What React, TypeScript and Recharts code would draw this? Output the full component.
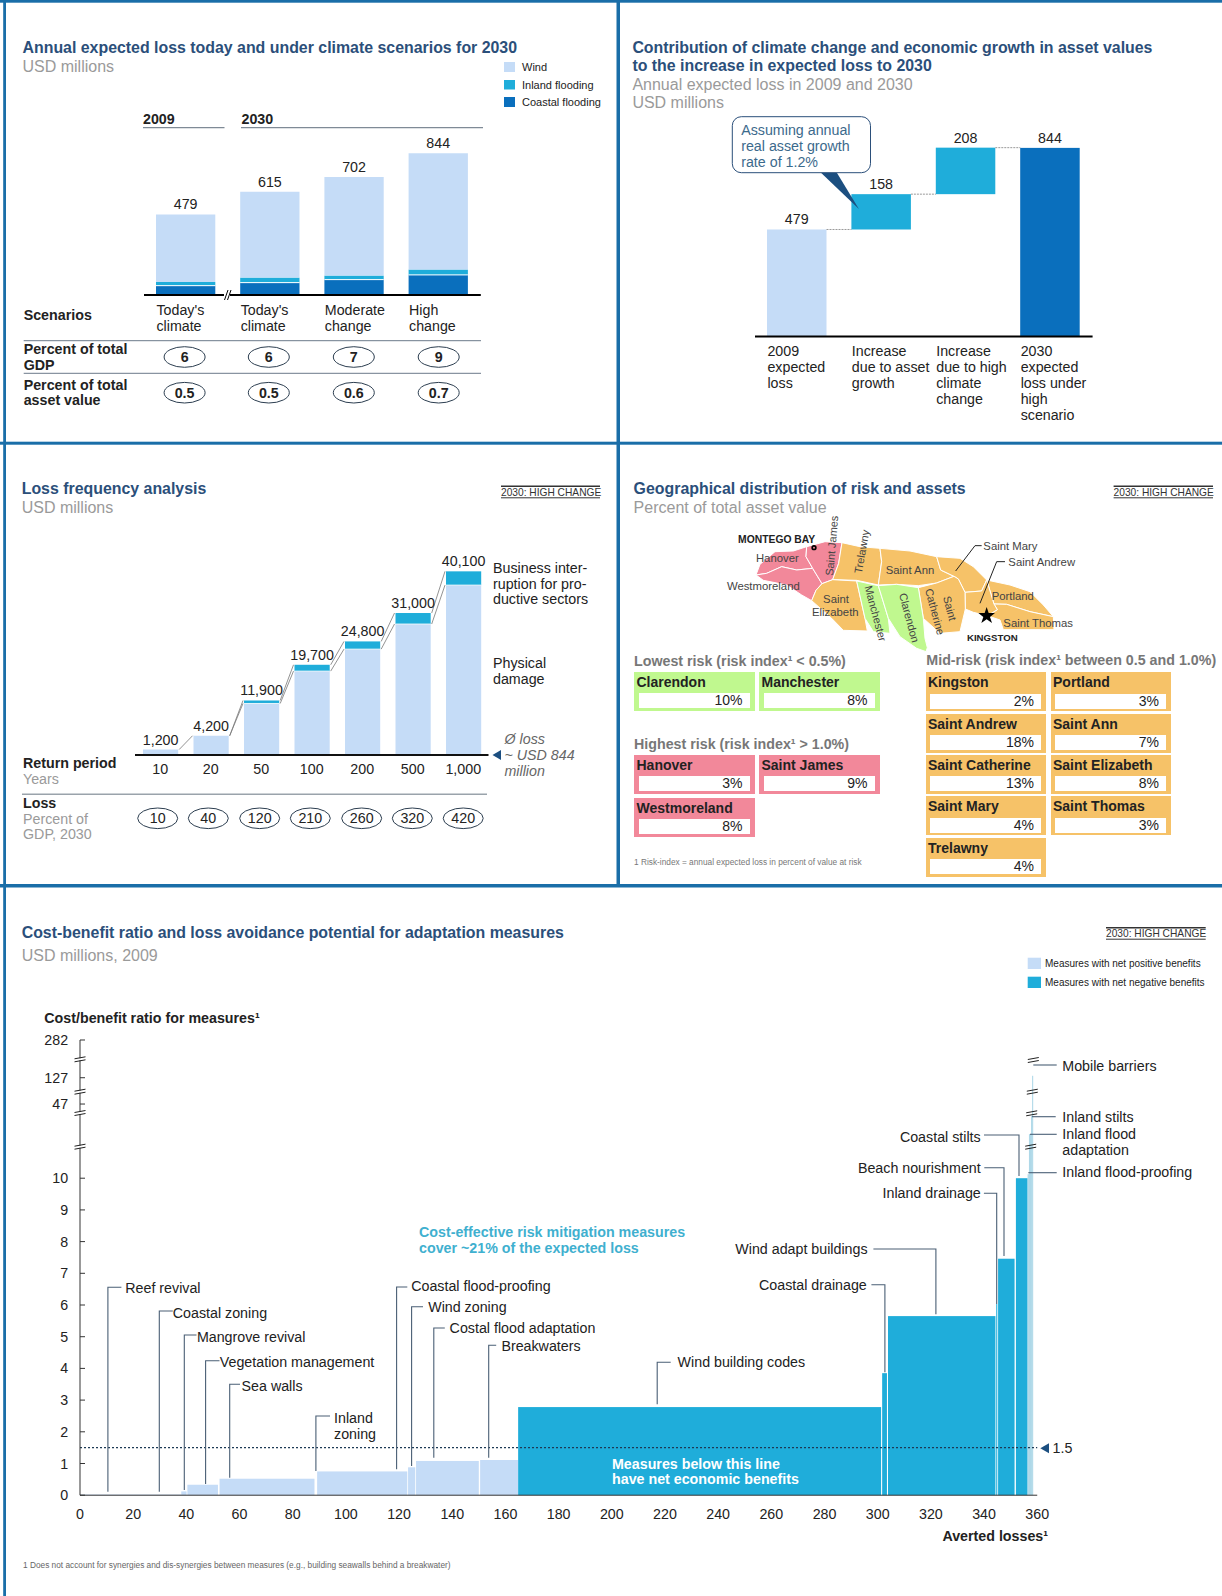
import React from 'react';
import { BarChart, ComposedChart, Bar, XAxis, YAxis, LabelList, ReferenceLine } from 'recharts';

// ---------- Panel 1 data
const SCENARIOS = ["Today's\nclimate", "Today's\nclimate", 'Moderate\nchange', 'High\nchange'];
const LOSS_TOTAL = [479, 615, 702, 844];
const LOSS_COASTAL = [55, 73, 91, 119];
const LOSS_INLAND = [22, 30, 24, 32];
const LOSS_WIND = [402, 512, 587, 693];
const PCT_GDP = ['6', '6', '7', '9'];
const PCT_ASSET = ['0.5', '0.5', '0.6', '0.7'];

// ---------- Panel 2 data
const BRIDGE_LABELS = ['2009\nexpected\nloss', 'Increase\ndue to asset\ngrowth', 'Increase\ndue to high\nclimate\nchange', '2030\nexpected\nloss under\nhigh\nscenario'];
const BRIDGE_BASE = [0, 479, 637, 0];
const BRIDGE_VALUE = [479, 158, 208, 844];

// ---------- Panel 3 data
const RETURN_PERIODS = ['10', '20', '50', '100', '200', '500', '1,000'];
const FREQ_TOTAL = [1200, 4200, 11900, 19700, 24800, 31000, 40100];
const FREQ_BUSINESS = [0, 0, 650, 1380, 1680, 2400, 3000];
const FREQ_GDP = ['10', '40', '120', '210', '260', '320', '420'];

// ---------- Panel 4 data
const LOWEST = ['Clarendon', 'Manchester'];
const LOWEST_PCT = ['10%', '8%'];
const HIGHEST = ['Hanover', 'Saint James', 'Westmoreland'];
const HIGHEST_PCT = ['3%', '9%', '8%'];
const MID = ['Kingston', 'Portland', 'Saint Andrew', 'Saint Ann', 'Saint Catherine', 'Saint Elizabeth', 'Saint Mary', 'Saint Thomas', 'Trelawny'];
const MID_PCT = ['2%', '3%', '18%', '7%', '13%', '8%', '4%', '3%', '4%'];

// ---------- Panel 5 data: averted-loss spans and cost/benefit ratios
const POS_START = [0, 20, 38.1, 40.4, 52.5, 89.2, 123.4, 126.4, 150.5];
const POS_END = [20, 38, 40.1, 51.9, 88.2, 123.1, 126.1, 150, 164.8];
const POS_RATIO = [0.02, 0.02, 0.12, 0.33, 0.52, 0.75, 0.88, 1.08, 1.11];
const NEG_START = [164.8, 301.7, 303.9, 344.6, 345.3, 352];
const NEG_END = [301.3, 303.5, 344.3, 345, 351.5, 356.4];
const NEG_RATIO = [2.78, 3.85, 5.65, 6.03, 7.46, 10];
const THIN_START = [356.4, 356.9, 357.7, 358.1];
const THIN_END = [356.9, 357.7, 358.1, 358.5];
const THIN_RATIO = [12, 32, 41, 135];
const X_TICKS = [0, 20, 40, 60, 80, 100, 120, 140, 160, 180, 200, 220, 240, 260, 280, 300, 320, 340, 360];
const Y_LABELS = [0, 1, 2, 3, 4, 5, 6, 7, 8, 9, 10, 47, 127, 282];
const BREAK_FROM = [10, 47, 127, 282];
const BREAK_TO = [10, 12.34, 13.17, 14.36];

// broken axis: ratios above 10 are compressed piecewise
const axisPos = (v: number) => {
  if (v <= 10) return v;
  for (let i = 1; i < BREAK_FROM.length; i++) {
    if (v <= BREAK_FROM[i]) {
      return BREAK_TO[i - 1] + ((v - BREAK_FROM[i - 1]) / (BREAK_FROM[i] - BREAK_FROM[i - 1])) * (BREAK_TO[i] - BREAK_TO[i - 1]);
    }
  }
  return BREAK_TO[BREAK_TO.length - 1];
};

// ---------- colours
const LIGHT = '#c5dcf7';
const TEAL = '#1fadda';
const DEEP = '#0a6fbd';
const THINC = '#aed8e8';
const NAVY = '#2b4f7a';
const GREY = '#9a9a9a';
const INK = '#222';
const BORDER = '#1a6ea8';
const FONT = '"Liberation Sans", Arial, sans-serif';
const BODY = 14.25;

const lossData = SCENARIOS.map((name, i) => ({ name, total: LOSS_TOTAL[i], coastal: LOSS_COASTAL[i], inland: LOSS_INLAND[i], wind: LOSS_WIND[i] }));
const bridgeData = BRIDGE_LABELS.map((name, i) => ({ name, base: BRIDGE_BASE[i], value: BRIDGE_VALUE[i] }));
const freqData = RETURN_PERIODS.map((name, i) => ({ name, total: FREQ_TOTAL[i], business: FREQ_BUSINESS[i], physical: FREQ_TOTAL[i] - FREQ_BUSINESS[i] }));

const row = (start: number, end: number, ratio: number, key: string) => ({ mid: (start + end) / 2, span: end - start, pos: key === 'pos' ? axisPos(ratio) : 0, neg: key === 'neg' ? axisPos(ratio) : 0, thin: key === 'thin' ? axisPos(ratio) : 0 });
const measureData = [
  ...POS_START.map((s, i) => row(s, POS_END[i], POS_RATIO[i], 'pos')),
  ...NEG_START.map((s, i) => row(s, NEG_END[i], NEG_RATIO[i], 'neg')),
  ...THIN_START.map((s, i) => row(s, THIN_END[i], THIN_RATIO[i], 'thin')),
];

// ---------- helpers
const Frame = ({ x, y, w, h, mt = 0, ml = 0, mr = 0, mb = 0, children }: any) => (
  <div style={{ position: 'absolute', left: x - ml, top: y - mt, width: w + ml + mr, height: h + mt + mb }}>{children}</div>
);

const T = ({ x, y, s = BODY, b, i, c = INK, a = 'start', children }: any) => (
  <text x={x} y={y} fontSize={s} fontWeight={b ? 700 : 400} fontStyle={i ? 'italic' : 'normal'} fill={c} textAnchor={a} dominantBaseline="central">{children}</text>
);

const Tag = ({ x1, x2, y }: any) => (
  <g>
    <line x1={x1} x2={x2} y1={y - 6} y2={y - 6} stroke="#333" strokeWidth={1.4} />
    <T x={x1} y={y} s={10.2} c="#333">2030: HIGH CHANGE</T>
    <line x1={x1} x2={x2} y1={y + 5.5} y2={y + 5.5} stroke="#333" strokeWidth={1} />
  </g>
);

const Oval = ({ x, y, rx = 20.5, ry = 10.3, b, children }: any) => (
  <g>
    <ellipse cx={x} cy={y} rx={rx} ry={ry} fill="#fff" stroke="#2c3e50" strokeWidth={1} />
    <T x={x} y={y} a="middle" b={b}>{children}</T>
  </g>
);

const Slash = ({ x, y, w = 5.5 }: any) => (
  <g stroke="#222" strokeWidth={1}>
    <line x1={x - w} x2={x + w} y1={y - 0.5} y2={y - 2.5} />
    <line x1={x - w} x2={x + w} y1={y + 2.5} y2={y + 0.5} />
  </g>
);

const multiTick = (barW: number, gap: number, first: number) => (p: any) => {
  const lines = String(p.payload.value).split('\n');
  return (
    <text x={p.x - barW / 2} y={p.y} fontSize={BODY} fill={INK} dominantBaseline="central">
      {lines.map((l, i) => (
        <tspan key={i} x={p.x - barW / 2} y={p.y + first + i * gap}>{l}</tspan>
      ))}
    </text>
  );
};

// ---------- Chart 1
const LossChart = () => (
  <Frame x={143.7} y={126.8} w={336.8} h={167.9} mb={50} ml={1} mr={1}>
    <BarChart width={338.8} height={217.9} data={lossData} margin={{ top: 0, left: 1, right: 1, bottom: 0 }} barSize={59.3}>
      <XAxis dataKey="name" height={50} interval={0} tickLine={false} tickSize={0} tickMargin={0} axisLine={{ stroke: '#000', strokeWidth: 2 }} tick={multiTick(59.3, 16, 15.3)} />
      <YAxis hide domain={[0, 1000]} />
      <Bar dataKey="coastal" stackId="a" fill={DEEP} isAnimationActive={false} />
      <Bar dataKey="inland" stackId="a" isAnimationActive={false} shape={(p: any) => (
        <g>
          <rect x={p.x} y={p.y} width={p.width} height={p.height} fill={TEAL} />
          <line x1={p.x} x2={p.x + p.width} y1={p.y + p.height} y2={p.y + p.height} stroke="#fff" strokeWidth={1} />
        </g>
      )} />
      <Bar dataKey="wind" stackId="a" fill={LIGHT} isAnimationActive={false}>
        <LabelList dataKey="total" position="top" fontSize={BODY} fill={INK} />
      </Bar>
    </BarChart>
  </Frame>
);

// ---------- Chart 2
const BRIDGE_COLORS = [LIGHT, TEAL, TEAL, DEEP];
const BridgeChart = () => (
  <Frame x={755} y={113.1} w={337.6} h={223.6} mb={90} ml={2} mr={20}>
    <BarChart width={359.6} height={313.6} data={bridgeData} margin={{ top: 0, left: 2, right: 20, bottom: 0 }} barSize={59.5}>
      <XAxis dataKey="name" height={90} interval={0} tickLine={false} tickSize={0} tickMargin={0} axisLine={{ stroke: '#000', strokeWidth: 2 }} tick={multiTick(59.5, 16, 14.5)} />
      <YAxis hide domain={[0, 1000]} />
      <Bar dataKey="base" stackId="a" fill="none" isAnimationActive={false} />
      <Bar dataKey="value" stackId="a" isAnimationActive={false} shape={(p: any) => (
        <g>
          <rect x={p.x} y={p.y} width={p.width} height={p.height} fill={BRIDGE_COLORS[p.index]} />
          {p.index < 3 && <line x1={p.x + p.width} x2={p.x + p.width + 25} y1={p.y} y2={p.y} stroke="#999" strokeWidth={1} strokeDasharray="2 1" />}
        </g>
      )}>
        <LabelList dataKey="value" position="top" fontSize={BODY} fill={INK} />
      </Bar>
    </BarChart>
  </Frame>
);

// ---------- Chart 3
const FREQ_PLOT_H = 229;
const FREQ_MAX = 50000;
const FreqChart = () => (
  <Frame x={135.25} y={525.7} w={353.5} h={FREQ_PLOT_H} mb={30} ml={1} mr={1}>
    <BarChart width={355.5} height={FREQ_PLOT_H + 30} data={freqData} margin={{ top: 0, left: 1, right: 1, bottom: 0 }} barSize={35.2}>
      <XAxis dataKey="name" height={30} interval={0} tickLine={false} tickSize={0} tickMargin={9} axisLine={{ stroke: '#111', strokeWidth: 2 }} tick={{ fontSize: BODY, fill: INK }} />
      <YAxis hide domain={[0, FREQ_MAX]} />
      <Bar dataKey="physical" stackId="a" fill={LIGHT} isAnimationActive={false} />
      <Bar dataKey="business" stackId="a" isAnimationActive={false} shape={(p: any) => {
        const k = FREQ_PLOT_H / FREQ_MAX;
        const next = p.index + 1;
        const i = p.index;
        const gap = 15.3;
        const hasNext = next < FREQ_TOTAL.length;
        const nextTop = hasNext ? p.y - (FREQ_TOTAL[next] - FREQ_TOTAL[i]) * k : 0;
        const nextLow = hasNext ? nextTop + FREQ_BUSINESS[next] * k : 0;
        const low = p.y + p.height;
        return (
          <g>
            <rect x={p.x} y={p.y} width={p.width} height={Math.max(0, p.height)} fill={TEAL} />
            <line x1={p.x} x2={p.x + p.width} y1={low} y2={low} stroke="#fff" strokeWidth={p.height > 0 ? 0.8 : 0} />
            {hasNext && <line x1={p.x + p.width + 1} x2={p.x + p.width + gap - 1} y1={p.y} y2={nextTop} stroke="#777" strokeWidth={0.8} />}
            {hasNext && FREQ_BUSINESS[next] > 0 && <line x1={p.x + p.width + 1} x2={p.x + p.width + gap - 1} y1={low} y2={nextLow} stroke="#777" strokeWidth={0.8} />}
          </g>
        );
      }}>
        <LabelList dataKey="total" position="top" fontSize={BODY} fill={INK} formatter={(v: any) => Number(v).toLocaleString('en-US')} />
      </Bar>
    </BarChart>
  </Frame>
);

// ---------- Chart 5
const M_K = 2.659;
const M_W = 360 * M_K;
const M_U = 31.7;
const M_TOP = BREAK_TO[3];
const M_H = M_TOP * M_U;
const M_PAD = 12;
const yTickVals = Y_LABELS.map(axisPos);
const blockShape = (fill: string) => (p: any) => {
  if (!(p.height > 0)) return <g />;
  const cx = p.x + p.width / 2;
  const w = p.payload.span * M_K;
  return <rect x={cx - w / 2} y={p.y} width={w} height={p.height} fill={fill} />;
};
const MeasureChart = () => (
  <Frame x={79.9} y={1495.3 - M_H} w={M_W} h={M_H} mt={M_PAD} ml={40} mr={20} mb={30}>
    <ComposedChart width={M_W + 60} height={M_H + M_PAD + 30} data={measureData} margin={{ top: M_PAD, left: 0, right: 20, bottom: 0 }} barSize={2}>
      <XAxis type="number" dataKey="mid" domain={[0, 360]} ticks={X_TICKS} interval={0} height={30} tickLine={false} tickSize={0} tickMargin={14} axisLine={{ stroke: '#333', strokeWidth: 1 }} tick={{ fontSize: BODY, fill: INK }} />
      <YAxis type="number" domain={[0, M_TOP]} ticks={yTickVals} interval={0} width={40} tickLine={false} axisLine={{ stroke: '#333', strokeWidth: 1 }} tick={(p: any) => {
        const idx = yTickVals.indexOf(p.payload.value);
        return (
          <g>
            <line x1={p.x} x2={p.x + 5} y1={p.y} y2={p.y} stroke="#333" strokeWidth={1} />
            <text x={68 - 39.9} y={p.y} fontSize={BODY} fill={INK} textAnchor="end" dominantBaseline="central">{Y_LABELS[idx]}</text>
          </g>
        );
      }} tickSize={0} tickMargin={0} />
      <Bar dataKey="pos" stackId="m" isAnimationActive={false} shape={blockShape(LIGHT)} />
      <Bar dataKey="neg" stackId="m" isAnimationActive={false} shape={blockShape(TEAL)} />
      <Bar dataKey="thin" stackId="m" isAnimationActive={false} shape={blockShape(THINC)} />
      <ReferenceLine y={1.5} stroke="#1d3a55" strokeWidth={1.2} strokeDasharray="2 2" segment={[{ x: 0, y: 1.5 }, { x: 360, y: 1.5 }]} />
    </ComposedChart>
  </Frame>
);

// ---------- risk boxes
const RiskBox = ({ x, y, name, pct, color }: any) => (
  <div style={{ position: 'absolute', left: x, top: y, width: 120.5, height: 39, background: color }}>
    <div style={{ position: 'absolute', left: 2.5, top: 2, fontSize: 14, fontWeight: 700, color: '#222', lineHeight: '16px', whiteSpace: 'nowrap' }}>{name}</div>
    <div style={{ position: 'absolute', left: 4.5, top: 21.3, width: 111, height: 15, background: '#fff', fontSize: 14, color: '#222', lineHeight: '15px', textAlign: 'right', paddingRight: 7, boxSizing: 'border-box' }}>{pct}</div>
  </div>
);
const COL_A = [634, 759];
const ROW_HIGH = [754.7, 798];
const COL_M = [925.5, 1050.5];
const ROW_M = [672.3, 713.7, 755, 796.3, 837.7];
const PINK = '#f2889a';
const ORANGE = '#f6c268';
const GREEN = '#c0f88f';

// ---------- map outlines (artwork, not data)
const MAP_REGIONS: [string, string][] = [
  [PINK, '138,210 150,178 195,140 250,138 290,125 288,155 308,190 260,195 215,185 170,205'],
  [PINK, '138,210 170,205 215,185 260,195 308,190 336,236 318,256 305,287 275,270 230,240 160,226'],
  [PINK, '290,125 345,110 396,113 386,175 368,224 336,236 308,190 288,155'],
  [ORANGE, '396,113 450,125 510,130 515,170 505,240 440,226 368,224 386,175'],
  [ORANGE, '510,130 600,138 680,155 692,195 732,214 680,234 625,242 560,238 505,240 515,170'],
  [ORANGE, '680,155 750,160 790,185 830,225 815,258 765,262 745,222 732,214 692,195'],
  [ORANGE, '830,225 900,240 960,260 1000,300 1030,335 960,320 890,298 852,297'],
  [ORANGE, '852,297 890,298 960,320 1030,335 1032,374 880,374 870,345 832,332 862,314'],
  [ORANGE, '765,262 815,258 830,225 852,297 862,314 832,332 790,322 766,312'],
  [ORANGE, '625,248 680,234 732,214 745,222 765,262 766,312 750,380 690,385 640,340'],
  [ORANGE, '336,236 368,224 440,228 465,340 472,378 400,376 365,340 305,287 318,256'],
  [GREEN, '440,228 505,242 535,340 540,385 490,380 465,340'],
  [GREEN, '505,242 560,238 625,248 640,340 645,400 652,428 648,440 620,430 570,395 535,340'],
];

const Jamaica = () => (
  <g transform="translate(710 505) scale(0.33333)" fontFamily={FONT}>
    {MAP_REGIONS.map(([c, pts], i) => <polygon key={i} points={pts} fill={c} stroke="#fff" strokeWidth={3} />)}
    <circle cx={312} cy={128} r={8} fill="#000" /><circle cx={312} cy={128} r={3} fill="#f2889a" />
    <T x={200} y={105} s={31} b a="middle">MONTEGO BAY</T>
    <T x={202} y={158} s={34} a="middle" c="#444">Hanover</T>
    <T x={160} y={243} s={34} a="middle" c="#444">Westmoreland</T>
    <g transform="translate(365 122) rotate(-85)"><T x={0} y={0} s={33} a="middle" c="#444">Saint James</T></g>
    <g transform="translate(455 140) rotate(-80)"><T x={0} y={0} s={33} a="middle" c="#444">Trelawny</T></g>
    <T x={600} y={195} s={34} a="middle" c="#444">Saint Ann</T>
    <T x={820} y={123} s={34} c="#444">Saint Mary</T>
    <T x={895} y={170} s={34} c="#444">Saint Andrew</T>
    <T x={845} y={272} s={34} c="#444">Portland</T>
    <T x={880} y={355} s={34} c="#444">Saint Thomas</T>
    <T x={378} y={283} s={34} a="middle" c="#444">Saint</T>
    <T x={376} y={322} s={34} a="middle" c="#444">Elizabeth</T>
    <g transform="translate(497 325) rotate(75)"><T x={0} y={0} s={33} a="middle" c="#444">Manchester</T></g>
    <g transform="translate(598 338) rotate(75)"><T x={0} y={0} s={33} a="middle" c="#444">Clarendon</T></g>
    <g transform="translate(675 320) rotate(75)"><T x={0} y={0} s={33} a="middle" c="#444">Catherine</T></g>
    <g transform="translate(720 310) rotate(75)"><T x={0} y={0} s={33} a="middle" c="#444">Saint</T></g>
    <polyline points="737,198 795,122 815,122" fill="none" stroke="#222" strokeWidth={3} />
    <polyline points="810,295 860,170 885,170" fill="none" stroke="#222" strokeWidth={3} />
    <polygon points="830,306 836,324 855,324 840,336 846,354 830,343 814,354 820,336 805,324 824,324" fill="#000" />
    <T x={847} y={398} s={29} b a="middle">KINGSTON</T>
  </g>
);

// ---------- leader lines of chart 5 (artwork)
const LEADERS = [
  '107.9,1491.7 107.9,1287.3 121.4,1287.3',
  '159.3,1491.7 159.3,1311 172.8,1311',
  '184.3,1490 184.3,1335 196.5,1335',
  '205.6,1484 205.6,1360.7 219.5,1360.7',
  '229.7,1477.7 229.7,1384.3 240,1384.3',
  '315.9,1471 315.9,1416 330,1416',
  '396.6,1469.3 396.6,1287 407.3,1287',
  '411.6,1466 411.6,1306.7 423,1306.7',
  '433.8,1457.7 433.8,1328 444.8,1328',
  '488.7,1457.7 488.7,1345.3 496.2,1345.3',
  '657.2,1404.3 657.2,1362.3 670.7,1362.3',
  '871.4,1284.7 884.9,1284.7 884.9,1372.3',
  '873.4,1249 935.9,1249 935.9,1314.3',
  '983.9,1193.3 996.7,1193.3 996.7,1304',
  '984.3,1167.7 1004,1167.7 1004,1256',
  '984,1135 1019,1135 1019,1176',
  '1033.3,1065 1056.7,1065',
  '1032,1116.7 1055.7,1116.7',
  '1030,1134.3 1056.7,1134.3',
  '1028.3,1172.7 1056.7,1172.7',
];
const LEFT_NOTES: [string, number, number][] = [
  ['Reef revival', 125.3, 1288.3],
  ['Coastal zoning', 172.8, 1313],
  ['Mangrove revival', 196.9, 1337],
  ['Vegetation management', 219.8, 1361.7],
  ['Sea walls', 241.6, 1385.7],
  ['Inland', 334, 1418],
  ['zoning', 334, 1434],
  ['Coastal flood-proofing', 411.2, 1286],
  ['Wind zoning', 428.2, 1307.3],
  ['Costal flood adaptation', 449.6, 1328.3],
  ['Breakwaters', 501.4, 1345.7],
  ['Wind building codes', 677.6, 1362.3],
  ['Mobile barriers', 1062.3, 1065.7],
  ['Inland stilts', 1062.3, 1116.7],
  ['Inland flood', 1062.3, 1134.3],
  ['adaptation', 1062.3, 1150.3],
  ['Inland flood-proofing', 1062.3, 1172],
];
const RIGHT_NOTES: [string, number, number][] = [
  ['Coastal drainage', 866.8, 1284.7],
  ['Wind adapt buildings', 867.6, 1249],
  ['Inland drainage', 980.8, 1193.3],
  ['Beach nourishment', 980.7, 1167.7],
  ['Coastal stilts', 980.7, 1137.3],
];

const OVAL_X1 = [184.6, 268.8, 353.8, 438.7];
const OVAL_X3 = [157.7, 208.3, 259.7, 310.3, 361.7, 412.3, 463.2];

const Overlay = () => (
  <svg width={1222} height={1596} style={{ position: 'absolute', left: 0, top: 0, pointerEvents: 'none' }} fontFamily={FONT}>
    {/* panel frame */}
    <rect x={0} y={0} width={1222} height={2.7} fill={BORDER} />
    <rect x={3.2} y={0} width={2.8} height={1596} fill={BORDER} />
    <rect x={616.5} y={0} width={3.5} height={886} fill={BORDER} />
    <rect x={0} y={441.7} width={1222} height={3} fill={BORDER} />
    <rect x={0} y={884} width={1222} height={3.5} fill={BORDER} />

    {/* panel 1 */}
    <T x={22.5} y={47.7} s={15.9} b c={NAVY}>Annual expected loss today and under climate scenarios for 2030</T>
    <T x={22.5} y={66.7} s={16} c={GREY}>USD millions</T>
    <rect x={504} y={62} width={11} height={10} fill={LIGHT} /><T x={522} y={67} s={11}>Wind</T>
    <rect x={504} y={80} width={11} height={9.5} fill={TEAL} /><T x={522} y={85} s={11}>Inland flooding</T>
    <rect x={504} y={97} width={11} height={10} fill={DEEP} /><T x={522} y={102} s={11}>Coastal flooding</T>
    <T x={143} y={119.3} b>2009</T>
    <line x1={143} x2={224.5} y1={127.7} y2={127.7} stroke="#7f8a96" strokeWidth={1.2} />
    <T x={241.5} y={119.3} b>2030</T>
    <line x1={241} x2={483} y1={127.7} y2={127.7} stroke="#7f8a96" strokeWidth={1.2} />
    <rect x={224} y={292.5} width={6} height={4.5} fill="#fff" />
    <line x1={224.5} x2={228} y1={300} y2={290} stroke="#000" strokeWidth={1} />
    <line x1={227.5} x2={231} y1={300} y2={290} stroke="#000" strokeWidth={1} />
    <T x={23.7} y={315} b>Scenarios</T>
    <line x1={23.7} x2={481} y1={340.7} y2={340.7} stroke="#6c7a8a" strokeWidth={1} />
    <T x={23.7} y={349} b>Percent of total</T>
    <T x={23.7} y={365} b>GDP</T>
    <line x1={23.7} x2={481} y1={373.3} y2={373.3} stroke="#6c7a8a" strokeWidth={1} />
    <T x={23.7} y={384.7} b>Percent of total</T>
    <T x={23.7} y={400.3} b>asset value</T>
    {PCT_GDP.map((v, i) => <Oval key={i} x={OVAL_X1[i]} y={357} b>{v}</Oval>)}
    {PCT_ASSET.map((v, i) => <Oval key={i} x={OVAL_X1[i]} y={392.7} b>{v}</Oval>)}

    {/* panel 2 */}
    <T x={632.4} y={47} s={15.9} b c={NAVY}>Contribution of climate change and economic growth in asset values</T>
    <T x={632.4} y={65} s={15.9} b c={NAVY}>to the increase in expected loss to 2030</T>
    <T x={632.4} y={84.7} s={16} c={GREY}>Annual expected loss in 2009 and 2030</T>
    <T x={632.4} y={102.3} s={16} c={GREY}>USD millions</T>
    <polygon points="820.2,172 836.4,172 858.9,209" fill="#1c4f80" />
    <rect x={732.3} y={116.7} width={138.2} height={56} rx={9} fill="#fff" stroke="#2b4f7a" strokeWidth={1} />
    <T x={741.2} y={130} c="#3c6a8c">Assuming annual</T>
    <T x={741.2} y={146} c="#3c6a8c">real asset growth</T>
    <T x={741.2} y={162} c="#3c6a8c">rate of 1.2%</T>

    {/* panel 3 */}
    <T x={21.7} y={488.3} s={15.9} b c={NAVY}>Loss frequency analysis</T>
    <T x={21.7} y={507} s={16} c={GREY}>USD millions</T>
    <Tag x1={501} x2={600} y={492.3} />
    <T x={493} y={568}>Business inter-</T>
    <T x={493} y={583.7}>ruption for pro-</T>
    <T x={493} y={599.3}>ductive sectors</T>
    <T x={493} y={663}>Physical</T>
    <T x={493} y={678.7}>damage</T>
    <T x={504.5} y={739.3} i c="#666">Ø loss</T>
    <T x={504.5} y={755.3} i c="#666">~ USD 844</T>
    <T x={504.5} y={771} i c="#666">million</T>
    <polygon points="492.5,755 501,750 501,760" fill="#1c4f80" />
    <T x={23} y={763} b>Return period</T>
    <T x={23} y={779.3} c={GREY}>Years</T>
    <line x1={22} x2={487} y1={794.3} y2={794.3} stroke="#9aa3ab" strokeWidth={1.5} />
    <T x={23} y={802.7} b>Loss</T>
    <T x={23} y={818.7} c={GREY}>Percent of</T>
    <T x={23} y={834.3} c={GREY}>GDP, 2030</T>
    {FREQ_GDP.map((v, i) => <Oval key={i} x={OVAL_X3[i]} y={818.3} rx={20}>{v}</Oval>)}

    {/* panel 4 */}
    <T x={633.6} y={488.3} s={15.9} b c={NAVY}>Geographical distribution of risk and assets</T>
    <T x={633.6} y={507} s={16} c={GREY}>Percent of total asset value</T>
    <Tag x1={1113.6} x2={1213} y={492.3} />
    <Jamaica />
    <T x={634} y={660.7} b c="#777">Lowest risk (risk index¹ &lt; 0.5%)</T>
    <T x={634} y={744.3} b c="#777">Highest risk (risk index¹ &gt; 1.0%)</T>
    <T x={926.3} y={660} b c="#777">Mid-risk (risk index¹ between 0.5 and 1.0%)</T>
    <T x={634} y={861.7} s={8.3} c="#777">1 Risk-index = annual expected loss in percent of value at risk</T>

    {/* panel 5 */}
    <T x={21.7} y={932} s={15.9} b c={NAVY}>Cost-benefit ratio and loss avoidance potential for adaptation measures</T>
    <T x={21.7} y={955} s={16} c={GREY}>USD millions, 2009</T>
    <Tag x1={1106} x2={1205.7} y={933.7} />
    <rect x={1027.7} y={957.7} width={13.3} height={11.3} fill={LIGHT} /><T x={1045} y={963.3} s={10}>Measures with net positive benefits</T>
    <rect x={1027.7} y={976.7} width={13.3} height={11.3} fill={TEAL} /><T x={1045} y={982.7} s={10}>Measures with net negative benefits</T>
    <T x={44.3} y={1018.3} b>Cost/benefit ratio for measures¹</T>
    {[1059.3, 1091.7, 1113, 1146.7].map((y) => <g key={y}><rect x={74} y={y - 1} width={12} height={2} fill="#fff" /><Slash x={80} y={y} /></g>)}
    <Slash x={1033.3} y={1060} />
    <Slash x={1032.3} y={1091.7} />
    <Slash x={1031.7} y={1113.3} />
    <Slash x={1030.7} y={1146.7} />
    {LEADERS.map((pts, i) => <polyline key={i} points={pts} fill="none" stroke="#4a5f75" strokeWidth={1.1} />)}
    {LEFT_NOTES.map(([t, x, y]) => <T key={t} x={x} y={y}>{t}</T>)}
    {RIGHT_NOTES.map(([t, x, y]) => <T key={t} x={x} y={y} a="end">{t}</T>)}
    <T x={419} y={1232.3} b c="#3fb0cf">Cost-effective risk mitigation measures</T>
    <T x={419} y={1248.3} b c="#3fb0cf">cover ~21% of the expected loss</T>
    <T x={612} y={1463.7} b c="#fff">Measures below this line</T>
    <T x={612} y={1479.3} b c="#fff">have net economic benefits</T>
    <polygon points="1040.3,1448.3 1049,1443.3 1049,1453.3" fill="#1c4f80" />
    <T x={1052.6} y={1448.3}>1.5</T>
    <T x={1048} y={1536} b a="end">Averted losses¹</T>
    <T x={23} y={1565} s={8.3} c="#666">1 Does not account for synergies and dis-synergies between measures (e.g., building seawalls behind a breakwater)</T>
  </svg>
);

export default function App() {
  return (
    <div style={{ position: 'absolute', left: 0, top: 0, width: 1222, height: 1596, background: '#fff', overflow: 'hidden', fontFamily: FONT }}>
      <LossChart />
      <BridgeChart />
      <FreqChart />
      <MeasureChart />
      {LOWEST.map((n, i) => <RiskBox key={n} x={COL_A[i]} y={672} name={n} pct={LOWEST_PCT[i]} color={GREEN} />)}
      {HIGHEST.map((n, i) => <RiskBox key={n} x={COL_A[i % 2]} y={ROW_HIGH[Math.floor(i / 2)]} name={n} pct={HIGHEST_PCT[i]} color={PINK} />)}
      {MID.map((n, i) => <RiskBox key={n} x={COL_M[i % 2]} y={ROW_M[Math.floor(i / 2)]} name={n} pct={MID_PCT[i]} color={ORANGE} />)}
      <Overlay />
    </div>
  );
}
